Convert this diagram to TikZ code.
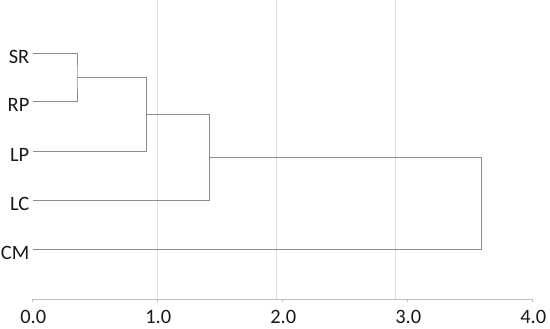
\documentclass[tikz,border=0pt]{standalone}
\usepackage{fontspec}
\setmainfont{Carlito}
\begin{document}
\begin{tikzpicture}[x=1bp,y=-1bp,
  link/.style={draw=black!45,line width=0.7bp},
  gridl/.style={draw=black!12,line width=0.8bp},
  axisl/.style={draw=black!25,line width=0.8bp},
  leaf/.style={anchor=base east,inner sep=0pt,font=\fontsize{20.5}{24}\selectfont,text=black!90},
  ticklab/.style={anchor=base,inner sep=0pt,font=\fontsize{20.5}{24}\selectfont,text=black!90}]
\useasboundingbox (0,0) rectangle (550,328);
% grid lines
\draw[gridl] (157.3,0) -- (157.3,299);
\draw[gridl] (276.7,0) -- (276.7,299);
\draw[gridl] (395,0) -- (395,299);
% axis
\coordinate (a0) at (32.3,299);
\coordinate (a4) at (532.3,299);
\draw[axisl] (a0) -- (a4);
\foreach \i/\t in {0/0.0,1/1.0,2/2.0,3/3.0,4/4.0}{
  \draw[axisl] (32.3+125*\i,299) -- (32.3+125*\i,302);
  \node[ticklab] (t\i) at (33.3+125*\i,323) {\t};
}
% leaf labels
\node[leaf] (SR) at (29.5,63.3) {SR};
\node[leaf] (RP) at (29.5,111) {RP};
\node[leaf] (LP) at (29.5,161.7) {LP};
\node[leaf] (LC) at (29.5,210.7) {LC};
\node[leaf] (CM) at (29.5,259.3) {CM};
% leaf ends
\coordinate (sr) at (33.3,53.3);
\coordinate (rp) at (33.3,101);
\coordinate (lp) at (33.3,151.7);
\coordinate (lc) at (33.3,200.7);
\coordinate (cm) at (33.3,249.3);
% merge points
\coordinate (m1) at (77,77.2);
\coordinate (m2) at (146.7,114.4);
\coordinate (m3) at (209.3,157.5);
\coordinate (m4) at (481.7,203.4);
% dendrogram
\draw[link] (sr) -| (m1) |- (rp);
\draw[link] (m1) -| (m2) |- (lp);
\draw[link] (m2) -| (m3) |- (lc);
\draw[link] (m3) -| (m4) |- (cm);
\end{tikzpicture}
\end{document}
